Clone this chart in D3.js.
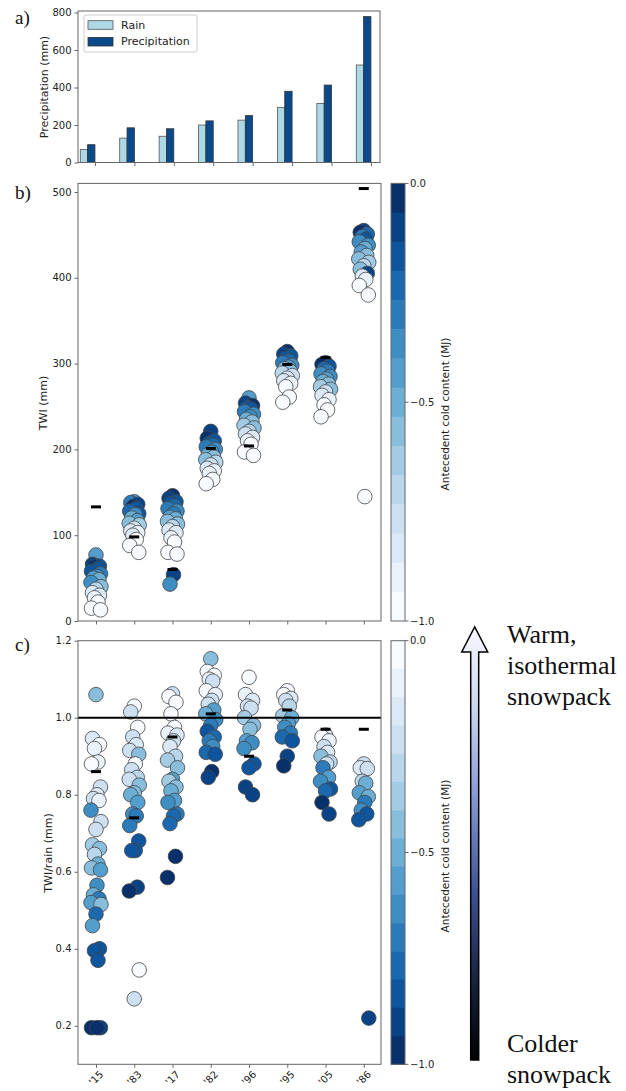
<!DOCTYPE html>
<html lang="en">
<head>
<meta charset="UTF-8">
<script src="https://d3js.org/d3.v7.min.js"></script>
<title>TWI</title>
<style>
  body { margin: 0; background: #fff; }
  text { font-family: "DejaVu Sans", sans-serif; fill: #222; }
  .serif { font-family: "Liberation Serif", "Times New Roman", serif; fill: #111; }
</style>
</head>
<body>
<div id="vis"></div>
<script>
// ---- data ----
var years = ["'15", "'83", "'17", "'82", "'96", "'95", "'05", "'86"];
var rain = [70, 130, 140, 200, 226, 293, 315, 520];
var precip = [95, 185, 180, 222, 250, 380, 413, 778];
var twiMarker = [133, 98, 60, 201, 204, 299, 307, 504];
var ratioMarker = [0.86, 0.74, 0.95, 1.01, 0.90, 1.02, 0.97, 0.97];
var ticksA = [0, 200, 400, 600, 800];
var ticksB = [0, 100, 200, 300, 400, 500];
var ticksC = [0.2, 0.4, 0.6, 0.8, 1.0, 1.2];
var cbarTicks = [0, -0.5, -1];

// [TWI (mm), antecedent cold content (MJ)] per event
var twiPoints = [
  [[77,-0.45],[66,-0.1],[64,-0.15],[63,-0.05],[61,-0.2],[58,-0.15],[55,-0.3],[52,-0.35],[50,-0.45],[48,-0.5],[45,-0.4],[40,-0.6],[37,-0.7],[33,-0.8],[30,-0.85],[27,-0.9],[22,-0.95],[15,-1.0],[13,-0.95]],
  [[139,-0.45],[138,-0.3],[136,-0.1],[133,-0.05],[131,-0.2],[128,-0.25],[125,-0.15],[124,-0.4],[120,-0.5],[117,-0.45],[114,-0.6],[112,-0.65],[108,-0.8],[105,-0.85],[103,-0.9],[100,-0.85],[95,-0.95],[88,-0.95],[80,-1.0]],
  [[146,-0.05],[143,-0.1],[139,-0.15],[137,-0.2],[134,-0.25],[131,-0.3],[128,-0.35],[125,-0.3],[121,-0.45],[119,-0.5],[116,-0.55],[113,-0.6],[110,-0.7],[106,-0.8],[103,-0.85],[97,-0.9],[92,-0.95],[80,-1.0],[78,-0.95],[54,-0.1],[43,-0.35]],
  [[221,-0.1],[213,-0.05],[210,-0.15],[207,-0.2],[205,-0.25],[203,-0.3],[200,-0.35],[197,-0.4],[194,-0.5],[191,-0.55],[188,-0.6],[185,-0.7],[182,-0.75],[178,-0.85],[175,-0.9],[172,-0.9],[165,-0.95],[160,-1.0]],
  [[260,-0.45],[254,-0.1],[251,-0.05],[249,-0.15],[247,-0.2],[244,-0.3],[241,-0.35],[238,-0.4],[235,-0.5],[232,-0.55],[228,-0.65],[225,-0.6],[221,-0.7],[218,-0.75],[214,-0.85],[210,-0.9],[206,-0.95],[197,-1.0],[193,-0.95]],
  [[314,-0.05],[311,-0.1],[309,-0.15],[306,-0.2],[303,-0.25],[301,-0.3],[298,-0.35],[296,-0.45],[294,-0.55],[291,-0.6],[289,-0.7],[286,-0.75],[283,-0.8],[280,-0.85],[277,-0.9],[273,-0.95],[261,-1.0],[255,-0.95]],
  [[301,-0.15],[299,-0.05],[297,-0.2],[294,-0.25],[291,-0.3],[288,-0.35],[285,-0.4],[282,-0.45],[279,-0.5],[276,-0.55],[273,-0.65],[270,-0.6],[267,-0.75],[263,-0.85],[258,-0.9],[252,-0.95],[246,-1.0],[238,-0.95]],
  [[455,-0.1],[453,-0.05],[451,-0.25],[448,-0.3],[445,-0.15],[442,-0.35],[438,-0.4],[434,-0.5],[430,-0.45],[426,-0.6],[422,-0.55],[418,-0.65],[414,-0.7],[410,-0.6],[405,-0.1],[402,-0.85],[398,-0.9],[391,-0.95],[380,-1.0],[145,-0.95]]
];

// [TWI/rain, antecedent cold content (MJ)] per event
var ratioPoints = [
  [[1.06,-0.45],[0.946,-0.15],[0.93,-0.05],[0.92,-0.1],[0.885,-0.1],[0.88,-0.05],[0.82,-0.2],[0.80,-0.15],[0.79,-0.25],[0.785,-0.1],[0.76,-0.6],[0.73,-0.2],[0.71,-0.25],[0.67,-0.35],[0.66,-0.4],[0.645,-0.3],[0.62,-0.5],[0.61,-0.4],[0.605,-0.55],[0.565,-0.65],[0.54,-0.5],[0.53,-0.7],[0.52,-0.55],[0.515,-0.45],[0.49,-0.75],[0.46,-0.55],[0.40,-0.85],[0.395,-0.8],[0.37,-0.8],[0.195,-0.95],[0.195,-0.9],[0.195,-1.0]],
  [[1.03,-0.05],[1.015,-0.2],[0.975,-0.05],[0.95,-0.2],[0.93,-0.15],[0.915,-0.25],[0.905,-0.45],[0.88,-0.05],[0.865,-0.2],[0.845,-0.3],[0.84,-0.25],[0.825,-0.4],[0.805,-0.45],[0.80,-0.5],[0.78,-0.55],[0.75,-0.65],[0.745,-0.7],[0.72,-0.7],[0.68,-0.85],[0.655,-0.8],[0.655,-0.85],[0.56,-0.9],[0.55,-0.95],[0.345,-0.05],[0.27,-0.25]],
  [[1.062,-0.2],[1.055,-0.05],[1.04,-0.05],[1.01,-0.05],[0.975,-0.05],[0.96,-0.1],[0.955,-0.15],[0.94,-0.2],[0.925,-0.15],[0.90,-0.3],[0.89,-0.35],[0.87,-0.4],[0.84,-0.55],[0.835,-0.35],[0.82,-0.45],[0.81,-0.5],[0.785,-0.55],[0.78,-0.65],[0.75,-0.7],[0.745,-0.75],[0.725,-0.75],[0.64,-0.95],[0.585,-0.95]],
  [[1.153,-0.45],[1.12,-0.05],[1.11,-0.05],[1.10,-0.1],[1.095,-0.2],[1.07,-0.05],[1.06,-0.1],[1.045,-0.2],[1.035,-0.25],[1.02,-0.55],[1.01,-0.5],[0.995,-0.65],[0.98,-0.7],[0.965,-0.8],[0.95,-0.75],[0.94,-0.7],[0.925,-0.65],[0.91,-0.75],[0.905,-0.8],[0.86,-0.95],[0.845,-0.9]],
  [[1.105,-0.05],[1.06,-0.1],[1.045,-0.15],[1.03,-0.2],[1.025,-0.25],[1.00,-0.35],[0.98,-0.4],[0.97,-0.45],[0.94,-0.55],[0.935,-0.6],[0.92,-0.6],[0.88,-0.8],[0.87,-0.85],[0.82,-0.9],[0.80,-0.9]],
  [[1.07,-0.05],[1.06,-0.05],[1.05,-0.15],[1.045,-0.2],[1.03,-0.3],[1.005,-0.35],[1.00,-0.5],[0.985,-0.55],[0.975,-0.6],[0.96,-0.7],[0.95,-0.75],[0.94,-0.8],[0.90,-0.9],[0.875,-0.95]],
  [[0.955,-0.15],[0.95,-0.05],[0.94,-0.1],[0.925,-0.2],[0.91,-0.15],[0.90,-0.4],[0.885,-0.3],[0.88,-0.25],[0.87,-0.7],[0.845,-0.55],[0.835,-0.6],[0.815,-0.8],[0.81,-0.75],[0.78,-0.95],[0.75,-0.9]],
  [[0.88,-0.2],[0.87,-0.15],[0.868,-0.25],[0.835,-0.3],[0.83,-0.5],[0.805,-0.55],[0.795,-0.5],[0.78,-0.7],[0.76,-0.65],[0.75,-0.85],[0.735,-0.85],[0.22,-0.9]]
];

// ---- setup ----
var width = 626, height = 1091;
var svg = d3.select("#vis").append("svg").attr("width", width).attr("height", height);

var left = 78, right = 381;
var nBands = 15;
var frame = "#666";

// discretised Blues, t in [0,1] -> light..dark
function blues(t) {
    var i = Math.min(nBands - 1, Math.max(0, Math.floor(t * nBands)));
    return d3.interpolateBlues(i / (nBands - 1));
}
// small fixed horizontal spread so the dots don't sit on one line
var spread = [0, -3.5, 3.5, -1.5, 2, -4.5, 4.5, 1, -2.5, 3, -5, 5];

function box(g, x0, y0, x1, y1) {
    g.append("rect").attr("x", x0).attr("y", y0).attr("width", x1 - x0).attr("height", y1 - y0)
        .attr("fill", "none").attr("stroke", frame).attr("stroke-width", 1);
}
function yAxis(g, y, ticks, fmt) {
    var ax = g.append("g").attr("transform", "translate(" + left + ",0)")
        .call(d3.axisLeft(y).tickValues(ticks).tickFormat(fmt).tickSize(3.5).tickPadding(3));
    ax.select(".domain").remove();
    ax.selectAll("line").attr("stroke", frame);
    ax.selectAll("text").style("font-size", "10px").attr("fill", "#222");
}
function xTicks(g, x, yPos) {
    var ax = g.append("g").attr("transform", "translate(0," + yPos + ")")
        .call(d3.axisBottom(x).tickValues(d3.range(years.length)).tickFormat("").tickSize(3.5));
    ax.select(".domain").remove();
    ax.selectAll("line").attr("stroke", frame);
}
function yLabel(g, txt, x, y) {
    g.append("text").attr("transform", "translate(" + x + "," + y + ") rotate(-90)")
        .attr("text-anchor", "middle").attr("dominant-baseline", "central")
        .style("font-size", "11px").text(txt);
}
function panelTag(txt, y) {
    svg.append("text").attr("class", "serif").attr("x", 15).attr("y", y)
        .style("font-size", "19px").text(txt);
}
function colorbar(y0, y1, darkTop, labelY) {
    var g = svg.append("g");
    var x0 = 391, w = 14;
    var step = (y1 - y0) / nBands;
    d3.range(nBands).forEach(function(i) {
        var t = darkTop ? (nBands - 1 - i) / (nBands - 1) : i / (nBands - 1);
        g.append("rect").attr("x", x0).attr("y", y0 + i * step).attr("width", w).attr("height", step + 0.5)
            .attr("fill", d3.interpolateBlues(t));
    });
    box(g, x0, y0, x0 + w, y1);
    var cy = d3.scaleLinear().domain([0, -1]).range([y0, y1]);
    cbarTicks.forEach(function(v) {
        g.append("line").attr("x1", x0 + w).attr("x2", x0 + w + 3.5).attr("y1", cy(v)).attr("y2", cy(v)).attr("stroke", frame);
        g.append("text").attr("x", x0 + w + 5).attr("y", cy(v)).attr("dominant-baseline", "central")
            .style("font-size", "10px").text(d3.format(".1f")(v).replace("-", "\u2212"));
    });
    g.append("text").attr("transform", "translate(445," + labelY + ") rotate(-90)")
        .attr("text-anchor", "middle").attr("dominant-baseline", "central")
        .style("font-size", "10.5px").text("Antecedent cold content (MJ)");
}
function dots(g, x, y, pts, colorOf) {
    pts.forEach(function(list, i) {
        g.selectAll(null).data(list).enter().append("circle")
            .attr("cx", function(d, j) { return x(i) + spread[j % spread.length]; })
            .attr("cy", function(d) { return y(d[0]); })
            .attr("r", 7.3)
            .attr("fill", function(d) { return colorOf(d[1]); })
            .attr("stroke", "#444").attr("stroke-width", 0.8);
    });
}
function markers(g, x, y, vals) {
    g.selectAll(null).data(vals).enter().append("rect")
        .attr("x", function(d, i) { return x(i) - 5; })
        .attr("y", function(d) { return y(d) - 1.5; })
        .attr("width", 10).attr("height", 3).attr("fill", "#000");
}

// ---- panel a ----
var xA = d3.scaleLinear().domain([-0.43, 7.23]).range([78, 380]);
var yA = d3.scaleLinear().domain([0, 808]).range([162.5, 11]);
var gA = svg.append("g");
var bw = xA(0.186) - xA(0);
gA.selectAll(null).data(rain).enter().append("rect")
    .attr("x", function(d, i) { return xA(i) - 2 * bw; })
    .attr("y", function(d) { return yA(d); })
    .attr("width", bw).attr("height", function(d) { return yA(0) - yA(d); })
    .attr("fill", "#add8e6").attr("stroke", "#555").attr("stroke-width", 0.8);
gA.selectAll(null).data(precip).enter().append("rect")
    .attr("x", function(d, i) { return xA(i) - bw; })
    .attr("y", function(d) { return yA(d); })
    .attr("width", bw).attr("height", function(d) { return yA(0) - yA(d); })
    .attr("fill", "#0a4a8a").attr("stroke", "#333").attr("stroke-width", 0.8);
box(gA, 78, 11, 380, 162.5);
yAxis(gA, yA, ticksA, d3.format("d"));
xTicks(gA, xA, 162.5);
yLabel(gA, "Precipitation (mm)", 44, 87);

// legend
var lg = gA.append("g");
lg.append("rect").attr("x", 84).attr("y", 15).attr("width", 113).attr("height", 37).attr("rx", 2)
    .attr("fill", "#fff").attr("stroke", "#ccc");
[["Rain", "#add8e6", "#555"], ["Precipitation", "#0a4a8a", "#333"]].forEach(function(d, i) {
    var cy = 25 + i * 16.7;
    lg.append("rect").attr("x", 88).attr("y", cy - 4.3).attr("width", 25).attr("height", 8.6)
        .attr("fill", d[1]).attr("stroke", d[2]).attr("stroke-width", 0.8);
    lg.append("text").attr("x", 121).attr("y", cy).attr("dominant-baseline", "central")
        .style("font-size", "11px").text(d[0]);
});
panelTag("a)", 24);

// ---- panel b ----
var xB = d3.scaleLinear().domain([-0.47, 7.45]).range([left, right]);
var yB = d3.scaleLinear().domain([0, 510]).range([621, 183.4]);
var gB = svg.append("g");
dots(gB, xB, yB, twiPoints, function(c) { return blues(c + 1); });
markers(gB, xB, yB, twiMarker);
box(gB, left, 183.4, right, 621);
yAxis(gB, yB, ticksB, d3.format("d"));
xTicks(gB, xB, 621);
yLabel(gB, "TWI (mm)", 43, 403);
colorbar(183.4, 621, true, 414);
panelTag("b)", 199);

// ---- panel c ----
var yC = d3.scaleLinear().domain([0.1, 1.2]).range([1064.3, 640.7]);
var gC = svg.append("g");
dots(gC, xB, yC, ratioPoints, function(c) { return blues(-c); });
gC.append("line").attr("x1", left).attr("x2", right).attr("y1", yC(1)).attr("y2", yC(1))
    .attr("stroke", "#000").attr("stroke-width", 2);
markers(gC, xB, yC, ratioMarker);
box(gC, left, 640.7, right, 1064.3);
yAxis(gC, yC, ticksC, d3.format(".1f"));
xTicks(gC, xB, 1064.3);
gC.selectAll(null).data(years).enter().append("text")
    .attr("transform", function(d, i) { return "translate(" + xB(i) + ",1078) rotate(-45)"; })
    .attr("text-anchor", "middle").attr("dominant-baseline", "central")
    .style("font-size", "10px").text(function(d) { return d; });
yLabel(gC, "TWI/rain (mm)", 48, 853);
colorbar(640.7, 1064.3, false, 856);
panelTag("c)", 651);

// ---- warm / cold arrow ----
var defs = svg.append("defs");
var grad = defs.append("linearGradient").attr("id", "arrowGrad")
    .attr("x1", 0).attr("y1", 1).attr("x2", 0).attr("y2", 0);
[[0, "#000000"], [0.2, "#1b2647"], [0.38, "#3a5092"], [0.6, "#8196d2"], [0.8, "#c9d3ef"], [1, "#f8f9ff"]]
    .forEach(function(s) { grad.append("stop").attr("offset", s[0]).attr("stop-color", s[1]); });
var ax = 474.7;
svg.append("path")
    .attr("d", "M" + (ax - 4) + ",1060 L" + (ax - 4) + ",652 L" + (ax - 13) + ",652 L" + ax + ",627 L" +
        (ax + 13) + ",652 L" + (ax + 4) + ",652 L" + (ax + 4) + ",1060 Z")
    .attr("fill", "url(#arrowGrad)").attr("stroke", "#000").attr("stroke-width", 1.5);

var warm = ["Warm,", "isothermal", "snowpack"];
var cold = ["Colder", "snowpack"];
svg.selectAll(null).data(warm).enter().append("text").attr("class", "serif")
    .attr("x", 507).attr("y", function(d, i) { return 643 + i * 31; })
    .style("font-size", "26px").text(function(d) { return d; });
svg.selectAll(null).data(cold).enter().append("text").attr("class", "serif")
    .attr("x", 507).attr("y", function(d, i) { return 1052 + i * 31; })
    .style("font-size", "26px").text(function(d) { return d; });
</script>
</body>
</html>
